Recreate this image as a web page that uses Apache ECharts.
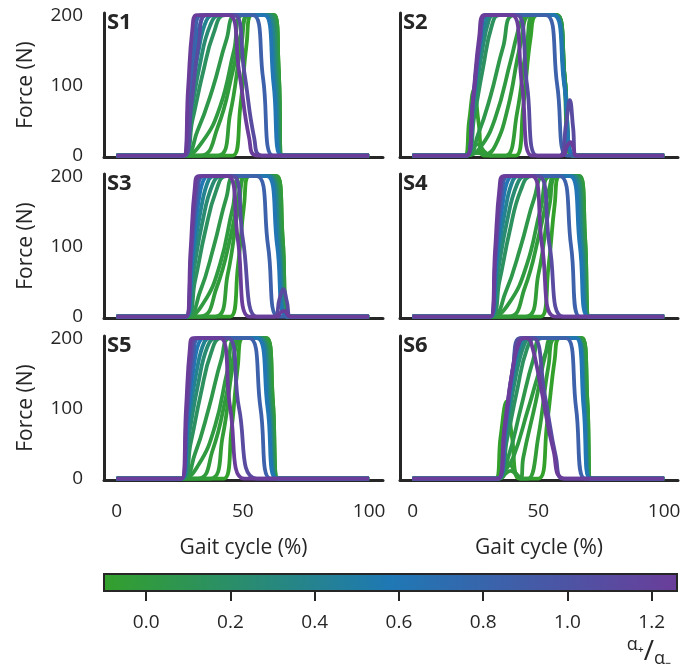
<!DOCTYPE html>
<html>
<head>
<meta charset="utf-8">
<script src="https://cdn.jsdelivr.net/npm/echarts@6/dist/echarts.min.js"></script>
<style>
  html, body { margin: 0; padding: 0; background: #fff; }
  #app { width: 699px; height: 672px; }
</style>
</head>
<body>
<div id="app"></div>
<script>
(function() {
  // ratio α+/α- of each curve (same set in every panel)
  const alphas = [-0.1, -0.05, -0.02, 0, 0.05, 0.15, 0.25, 0.4, 0.6, 0.85, 1.1, 1.26];

  // force profiles [gait %, N], only the part off zero, one list per alpha
  const s1 = [
    [[46,0],[49,70],[51.5,160],[53.5,200],[62.5,200],[64.2,120],[65.6,0]],
    [[40,0],[45,60],[49.5,160],[52.5,200],[62.5,200],[64.2,120],[65.6,0]],
    [[33,0],[40,40],[46,120],[50,185],[52,200],[62.5,200],[64.2,120],[65.6,0]],
    [[26.5,0],[34,20],[41,70],[46.5,150],[50,200],[62,200],[64,120],[65.6,0]],
    [[26.5,0],[32,35],[38,95],[43.5,165],[47.5,200],[61.5,200],[63.8,120],[65.5,0]],
    [[26.5,0],[30,50],[34,115],[38.5,175],[43,200],[61,200],[63.5,115],[65.5,0]],
    [[26.5,0],[29.5,60],[33,130],[37,185],[41,200],[60.5,200],[63.2,110],[65.4,0]],
    [[26.5,0],[29,70],[32.5,150],[35.5,192],[38.5,200],[59.5,200],[62.8,105],[65.3,0]],
    [[26.5,0],[28.8,75],[31.5,160],[34,197],[36,200],[58.5,200],[62.2,100],[65.2,0]],
    [[26.5,0],[28.5,80],[31,170],[33.5,200],[54,200],[58,110],[62,0]],
    [[27,0],[29.5,70],[32.5,160],[35.5,200],[46.5,200],[50.5,120],[54.5,25],[57.5,0]],
    [[26.5,0],[28.3,95],[30,180],[31.8,200],[44.5,200],[48.5,120],[52.5,25],[55.5,0]]
  ];
  const s2 = [
    [[20.7,0],[22.5,50],[24.4,94],[26.3,45],[28.3,0],[41,0],[44,70],[47,170],[49.5,200],[57,200],[60,120],[63.3,0]],
    [[21,0],[23,10],[25.8,16],[28.5,6],[31,0],[37,0],[41.5,60],[45.5,160],[48.5,200],[57.5,200],[60.5,110],[63.5,0]],
    [[21.5,0],[25,4],[29,2],[33,15],[38,70],[43,160],[47,200],[57.5,200],[60.5,110],[63.5,0]],
    [[21.5,0],[27,12],[33,55],[39,135],[43.5,195],[46,200],[57.5,200],[60.5,110],[63.5,0]],
    [[21.5,0],[26,30],[31,85],[36,155],[40.5,200],[57,200],[60.5,110],[63.8,0]],
    [[21.5,0],[24.5,55],[28,125],[31.5,185],[34.5,200],[56.5,200],[60.5,100],[64,0]],
    [[21.5,0],[24.2,65],[27.5,145],[30.5,195],[32.5,200],[56.5,200],[60.5,100],[64.2,0]],
    [[21.5,0],[24,70],[27,155],[29.5,195],[31,200],[56.5,200],[60.5,100],[64.3,0]],
    [[21.5,0],[24,75],[27,165],[29.5,200],[56,200],[60.3,100],[64.5,0]],
    [[21.5,0],[24,78],[26.8,168],[29,200],[53,200],[57.5,100],[61.5,0]],
    [[21.5,0],[24,75],[27,170],[29.2,200],[41.5,200],[45.5,100],[49.5,0],[58.5,0],[61,45],[62.5,79],[63.8,40],[65,0]],
    [[21.5,0],[24,80],[26.5,170],[28.5,200],[39.5,200],[43.5,100],[47.5,0],[59.5,0],[61.5,14],[62.8,19],[64,10],[65,0]]
  ];
  const s3 = [
    [[45,0],[48,70],[50.5,160],[52.5,200],[63.5,200],[65.8,110],[67.9,0]],
    [[39,0],[44,60],[48.5,160],[51.5,200],[63.5,200],[65.8,110],[67.9,0]],
    [[33,0],[39.5,40],[45.5,120],[49,185],[51,200],[63,200],[65.6,110],[67.9,0]],
    [[27.5,0],[34.5,20],[41,75],[46,155],[49.5,200],[62.5,200],[65.4,110],[67.8,0]],
    [[27.5,0],[33,35],[38.5,100],[43.5,170],[47,200],[62,200],[65.2,110],[67.7,0]],
    [[27.5,0],[31,50],[35,120],[39.5,180],[43.5,200],[61.5,200],[64.8,105],[67.6,0]],
    [[27.5,0],[30.5,65],[34,135],[38,188],[41.5,200],[61,200],[64.5,100],[67.5,0]],
    [[27.5,0],[30,75],[33.5,155],[36.5,195],[39,200],[60.5,200],[64.2,100],[67.4,0]],
    [[27.5,0],[29.8,80],[32.5,165],[35,198],[37,200],[59.5,200],[63.6,100],[67.3,0]],
    [[27.5,0],[29.5,85],[32,172],[34.5,200],[55.5,200],[60,100],[64,0]],
    [[27.5,0],[29.5,90],[31.5,180],[33.5,200],[46,200],[50,110],[55.4,0],[62.4,0],[64.5,25],[66,39],[67.5,20],[68.9,0]],
    [[27.5,0],[29.3,95],[31,185],[32.5,200],[44,200],[48,110],[52.5,0],[63.5,0],[65,6],[66.3,8],[67.5,4],[68.5,0]]
  ];
  const s4 = [
    [[51,0],[54,70],[56.5,160],[58.5,200],[66.5,200],[68.6,110],[70.3,0]],
    [[45,0],[50,60],[54.5,160],[57.5,200],[66.5,200],[68.6,110],[70.3,0]],
    [[38,0],[44.5,40],[50.5,120],[54.5,185],[56.5,200],[66,200],[68.4,110],[70.2,0]],
    [[31,0],[38.5,20],[45.5,75],[51,155],[55,200],[66,200],[68.3,110],[70.2,0]],
    [[31,0],[37,35],[43,100],[48.5,170],[52.5,200],[65.5,200],[68.1,110],[70.1,0]],
    [[31,0],[34.5,50],[38.5,120],[43,180],[47.5,200],[65,200],[67.8,105],[70,0]],
    [[31,0],[34,65],[37.5,135],[41.5,188],[45,200],[64.5,200],[67.5,100],[70,0]],
    [[31,0],[33.5,75],[37,155],[40,195],[42.5,200],[63.5,200],[67.2,100],[69.9,0]],
    [[31,0],[33.3,80],[36,165],[38.5,198],[40.5,200],[62.5,200],[66.5,100],[69.8,0]],
    [[31,0],[33,85],[35.5,172],[37.8,200],[58.5,200],[63,100],[66.5,0]],
    [[31,0],[33,90],[35,180],[37,200],[50,200],[54.5,100],[60,0]],
    [[31,0],[32.8,95],[34.6,185],[36.2,200],[47.5,200],[51.5,100],[56.5,0]]
  ];
  const s5 = [
    [[42.5,0],[45.5,70],[48,160],[50,200],[59.5,200],[61.9,110],[63.9,0]],
    [[37,0],[42,60],[46,160],[49,200],[59.5,200],[61.9,110],[63.9,0]],
    [[32,0],[38,40],[43.5,120],[47,185],[49,200],[59,200],[61.7,110],[63.9,0]],
    [[25.8,0],[32.5,20],[39,75],[44,155],[47.5,200],[58.5,200],[61.5,110],[63.8,0]],
    [[25.8,0],[31,35],[36.5,100],[41.5,170],[45,200],[58,200],[61.3,110],[63.7,0]],
    [[25.8,0],[29.3,50],[33.3,120],[37.5,180],[41.5,200],[57.5,200],[61,105],[63.6,0]],
    [[25.8,0],[28.8,65],[32.3,135],[36,188],[39.5,200],[57,200],[60.7,100],[63.5,0]],
    [[25.8,0],[28.3,75],[31.8,155],[34.8,195],[37.3,200],[56.5,200],[60.3,100],[63.4,0]],
    [[25.8,0],[28.1,80],[30.8,165],[33.3,198],[35.3,200],[55.5,200],[59.8,100],[63.3,0]],
    [[25.8,0],[27.8,85],[30.3,172],[32.5,200],[52.5,200],[57,100],[61,0]],
    [[25.8,0],[27.7,90],[29.7,180],[31.5,200],[44,200],[48.5,100],[55.5,0]],
    [[25.8,0],[27.5,100],[29,185],[30.3,200],[41,200],[45,100],[50.5,0]]
  ];
  const s6 = [
    [[33,0],[35,60],[37.4,110],[39.5,60],[42.5,0],[50,0],[53.5,80],[56.5,170],[58.5,200],[67.5,200],[69.5,110],[71,0]],
    [[33.5,0],[36,12],[38.5,20],[41,8],[43.5,0],[46,0],[50,60],[54,160],[57,200],[67.5,200],[69.5,110],[71,0]],
    [[33.5,0],[36.5,6],[39,11],[41.5,5],[43,0],[44,30],[49,110],[53,180],[55.5,200],[67,200],[69.3,110],[71,0]],
    [[34,0],[36,8],[40,30],[46,100],[53,180],[57,200],[66.5,200],[69,110],[71,0]],
    [[34,0],[38,30],[43,100],[48,170],[51.5,200],[66,200],[68.8,110],[70.9,0]],
    [[34,0],[37.5,55],[41.5,125],[45.5,185],[49,200],[65.8,200],[68.6,100],[70.8,0]],
    [[34,0],[37.2,65],[41,145],[44.5,192],[47,200],[65.5,200],[68.4,100],[70.7,0]],
    [[34,0],[37,70],[40.5,155],[43.5,195],[45.5,200],[65.3,200],[68.3,100],[70.6,0]],
    [[34,0],[37,75],[40.3,162],[43,198],[44.5,200],[65,200],[68,100],[70.5,0]],
    [[34,0],[37,75],[40,160],[42.8,200],[61,200],[65,100],[68.5,0]],
    [[34,0],[36.5,70],[40,160],[43,200],[48,200],[52.5,120],[57,30],[60,0]],
    [[34,0],[36.5,70],[39.5,150],[42.5,195],[45,200],[47,195],[51,130],[56,40],[60.5,0]]
  ];

  const panels = [s1, s2, s3, s4, s5, s6];
  const panelNames = ["S1", "S2", "S3", "S4", "S5", "S6"];
  const xTicks = [0, 50, 100];
  const yTicks = [0, 100, 200];
  const cbTicks = [0, 0.2, 0.4, 0.6, 0.8, 1.0, 1.2];
  const cbMin = -0.1;
  const cbMax = 1.26;

  const FONT = "Open Sans";
  const INK = "#262626";
  const cmap = ["#33a02c", "#1f78b4", "#6a3d9a"];

  /**
   * 颜色映射 (green -> blue -> purple)
   */
  function hexRgb(h) {
    return [1, 3, 5].map(i => parseInt(h.slice(i, i + 2), 16));
  }
  function colorOf(a) {
    let t = (a - cbMin) / (cbMax - cbMin);
    t = Math.max(0, Math.min(1, t));
    const seg = t < 0.5 ? 0 : 1;
    const f = t < 0.5 ? t / 0.5 : (t - 0.5) / 0.5;
    const c0 = hexRgb(cmap[seg]);
    const c1 = hexRgb(cmap[seg + 1]);
    const c = c0.map((v, i) => Math.round(v + (c1[i] - v) * f));
    return "rgb(" + c.join(",") + ")";
  }

  const lefts = [104, 400];
  const widths = [279, 278];
  const tops = [13, 174, 336];
  const plotH = 144;

  const grid = [];
  const xAxis = [];
  const yAxis = [];
  const title = [];
  const series = [];

  panels.forEach((curves, i) => {
    const col = i % 2;
    const row = Math.floor(i / 2);
    const bottomRow = row === 2;
    grid.push({ left: lefts[col], top: tops[row], width: widths[col], height: plotH });
    xAxis.push({
      type: "value",
      gridIndex: i,
      min: -5,
      max: 105.5,
      splitLine: { show: false },
      axisTick: { show: false },
      axisLine: { onZero: false, lineStyle: { color: INK, width: 3 } },
      axisLabel: {
        show: bottomRow,
        customValues: xTicks,
        margin: 22,
        fontFamily: FONT,
        fontSize: 19,
        color: INK
      },
      name: bottomRow ? "Gait cycle (%)" : "",
      nameLocation: "middle",
      nameGap: 58,
      nameTextStyle: { fontFamily: FONT, fontSize: 21, color: INK }
    });
    yAxis.push({
      type: "value",
      gridIndex: i,
      min: -2,
      max: 203,
      splitLine: { show: false },
      axisTick: { show: false },
      axisLine: { onZero: false, lineStyle: { color: INK, width: 3 } },
      axisLabel: {
        show: col === 0,
        customValues: yTicks,
        margin: 21,
        fontFamily: FONT,
        fontSize: 19,
        color: INK
      },
      name: col === 0 ? "Force (N)" : "",
      nameLocation: "middle",
      nameGap: 67,
      nameTextStyle: { fontFamily: FONT, fontSize: 21, color: INK }
    });
    title.push({
      text: panelNames[i],
      left: lefts[col] + 3,
      top: tops[row] - 1,
      padding: 0,
      textStyle: { fontFamily: FONT, fontWeight: "bold", fontSize: 22, color: INK }
    });
    curves.forEach((pts, k) => {
      series.push({
        type: "line",
        xAxisIndex: i,
        yAxisIndex: i,
        data: [[0, 0]].concat(pts, [[100, 0]]),
        smooth: 0.45,
        symbol: "none",
        lineStyle: { width: 3.8, color: colorOf(alphas[k]) },
        silent: true
      });
    });
  });

  // colorbar
  grid.push({ left: 104, top: 574, width: 573, height: 17 });
  xAxis.push({
    type: "value",
    gridIndex: 6,
    min: cbMin,
    max: cbMax,
    splitLine: { show: false },
    axisLine: { show: false, onZero: false },
    axisTick: { show: true, customValues: cbTicks, length: 10, lineStyle: { color: INK, width: 2 } },
    axisLabel: {
      customValues: cbTicks,
      formatter: v => v.toFixed(1),
      margin: 22,
      fontFamily: FONT,
      fontSize: 19,
      color: INK
    }
  });
  yAxis.push({ type: "value", gridIndex: 6, min: 0, max: 1, show: false });
  series.push({
    type: "custom",
    xAxisIndex: 6,
    yAxisIndex: 6,
    silent: true,
    data: [[cbMin, 0, cbMax, 1]],
    renderItem: function(params, api) {
      const p0 = api.coord([api.value(0), api.value(1)]);
      const p1 = api.coord([api.value(2), api.value(3)]);
      return {
        type: "rect",
        shape: { x: p0[0], y: p1[1], width: p1[0] - p0[0], height: p0[1] - p1[1] },
        style: {
          fill: new echarts.graphic.LinearGradient(0, 0, 1, 0, [
            { offset: 0, color: cmap[0] },
            { offset: 0.5, color: cmap[1] },
            { offset: 1, color: cmap[2] }
          ]),
          stroke: INK,
          lineWidth: 2
        }
      };
    }
  });

  const myChart = echarts.init(document.getElementById("app"));
  myChart.setOption({
    animation: false,
    backgroundColor: "#fff",
    title,
    grid,
    xAxis,
    yAxis,
    series,
    graphic: [{
      type: "text",
      right: 28,
      top: 636,
      style: {
        text: "{p|α₊}{s|/}{m|α₋}",
        fill: INK,
        rich: {
          p: { fontFamily: FONT, fontSize: 18, verticalAlign: "top", padding: [0, 0, 12, 0] },
          s: { fontFamily: FONT, fontSize: 28 },
          m: { fontFamily: FONT, fontSize: 18, verticalAlign: "bottom", padding: [14, 0, 0, 0] }
        }
      }
    }]
  });
})();
</script>
</body>
</html>
